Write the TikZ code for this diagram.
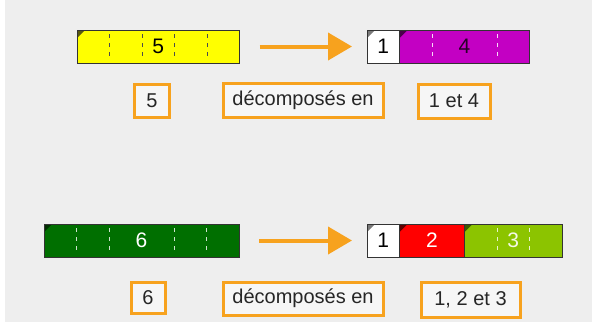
\documentclass[tikz,border=0pt]{standalone}
\usepackage{fontspec}
\setmainfont{Liberation Sans}
\usetikzlibrary{arrows.meta}
\definecolor{bg}{HTML}{EEEEEE}
\definecolor{boxfill}{HTML}{F6F6F6}
\definecolor{orng}{HTML}{F7A21E}
\definecolor{cyel}{HTML}{FFFF00}
\definecolor{cyeld}{HTML}{5A5A10}
\definecolor{cpur}{HTML}{C300C3}
\definecolor{cpurd}{HTML}{4A004A}
\definecolor{cgrn}{HTML}{006F00}
\definecolor{cgrnd}{HTML}{003000}
\definecolor{cred}{HTML}{FF0000}
\definecolor{credd}{HTML}{600000}
\definecolor{clim}{HTML}{8CC400}
\definecolor{climd}{HTML}{3A5A00}
\definecolor{cwhd}{HTML}{7A7A7A}
\definecolor{edge}{HTML}{333333}
\tikzset{
  segbox/.style={inner sep=0pt, minimum height=33pt, anchor=north west, outer sep=0pt},
  lbl/.style={draw=orng, line width=3pt, fill=boxfill, inner sep=0pt,
    font=\fontsize{20}{22}\selectfont, text=black!85},
  digit/.style={font=\fontsize{21}{22}\selectfont, inner sep=0pt},
  arr/.style={draw=orng, line width=4pt, -{Triangle[length=24pt,width=27pt]}},
  tick/.style={line width=0.8pt, dash pattern=on 4pt off 5pt},
}
% #1 name, #2 x left, #3 units, #4 y top, #5 fill, #6 corner colour, #7 dash colour, #8 dash indices
\newcommand\myseg[8]{%
  \node[segbox, fill=#5, minimum width=#3*32.5pt] (#1) at (#2,#4) {};
  \fill[#6] (#1.north west) -- ++(8,0) -- ++(-8,8) -- cycle;
  \foreach \k in {#8} {\draw[tick, #7] (#2+\k*32.5,#4+4) -- (#2+\k*32.5,#4+29);}
  \draw[edge, line width=1pt] (#1.north west) rectangle (#1.south east);
}
\begin{document}
\begin{tikzpicture}[x=1pt,y=-1pt]
\fill[white] (0,0) rectangle (597,325);
\fill[bg] (5,0) rectangle (592,322);

% ---- top row ----
\myseg{b5}{77}{5}{30}{cyel}{cyeld}{black!70}{1,2,3,4}
\node[digit, text=black] (t5) at (b5.center) {5};
\myseg{w1}{367}{1}{30}{white}{cwhd}{black}{}
\node[digit, text=black] (t1) at (w1.center) {1};
\myseg{p4}{399.5}{4}{30}{cpur}{cpurd}{white!85!cpur}{1,3}
\node[digit, text=black!80!cpur] (t4) at (p4.center) {4};
\draw[arr, shorten <=20pt, shorten >=15pt] (b5.east) -- (w1.west);

\node[lbl, minimum width=35pt, minimum height=33pt] (l5) at (152,100.5) {5};
\node[lbl, minimum width=160pt, minimum height=34pt] (d1) at (303,100) {décomposés en};
\node[lbl, minimum width=72pt, minimum height=34pt] (l14) at (454,101) {1 et 4};

% ---- bottom row ----
\myseg{b6}{44}{6}{224}{cgrn}{cgrnd}{white!80!cgrn}{1,2,4,5}
\node[digit, text=white] (t6) at (b6.center) {6};
\myseg{w2}{367}{1}{224}{white}{cwhd}{black}{}
\node[digit, text=black] (t1b) at (w2.center) {1};
\myseg{r2}{399.5}{2}{224}{cred}{credd}{white}{}
\node[digit, text=white] (t2) at (r2.center) {2};
\myseg{g3}{464.5}{3}{224}{clim}{climd}{white!80!clim}{1,2}
\node[digit, text=white!90!clim] (t3) at (g3.center) {3};
\draw[arr, shorten <=20pt, shorten >=15pt] (b6.east) -- (w2.west);

\node[lbl, minimum width=34pt, minimum height=31pt] (l6) at (148,297.5) {6};
\node[lbl, minimum width=160pt, minimum height=33pt] (d2) at (303,298.5) {décomposés en};
\node[lbl, minimum width=99pt, minimum height=35pt] (l123) at (470.5,299.5) {1, 2 et 3};
\end{tikzpicture}
\end{document}
